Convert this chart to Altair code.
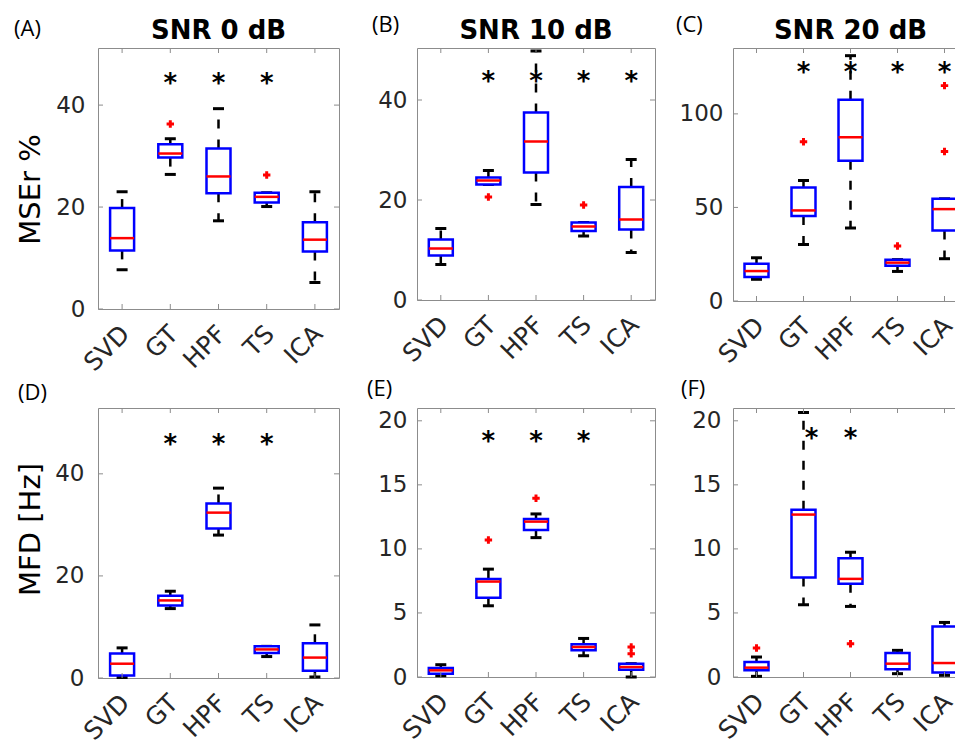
import altair as alt
import pandas as pd

methods = ["SVD", "GT", "HPF", "TS", "ICA"]

# (A) MSEr %, SNR 0 dB
A_lo = [7.7, 26.4, 17.3, 20.1, 5.2]
A_q1 = [11.5, 29.7, 22.7, 20.9, 11.3]
A_med = [13.9, 30.5, 26.0, 22.0, 13.6]
A_q3 = [19.8, 32.3, 31.5, 22.8, 17.0]
A_hi = [23.0, 33.4, 39.3, 22.8, 23.0]
A_out_m = ["GT", "TS"]
A_out_v = [36.3, 26.3]
A_star_m = ["GT", "HPF", "TS"]
A_star_v = 45.4

# (B) MSEr %, SNR 10 dB
B_lo = [7.1, 23.1, 19.1, 12.8, 9.5]
B_q1 = [8.9, 23.1, 25.5, 13.8, 14.1]
B_med = [10.3, 23.9, 31.7, 14.7, 16.1]
B_q3 = [12.1, 24.5, 37.5, 15.5, 22.6]
B_hi = [14.3, 25.9, 49.8, 15.5, 28.1]
B_out_m = ["GT", "TS"]
B_out_v = [20.6, 19.0]
B_star_m = ["GT", "HPF", "TS", "ICA"]
B_star_v = 44.8

# (C) MSEr %, SNR 20 dB
C_lo = [11.6, 30.2, 39.0, 15.8, 22.6]
C_q1 = [12.8, 45.4, 74.9, 18.9, 37.7]
C_med = [16.0, 48.4, 87.5, 20.5, 49.1]
C_q3 = [19.9, 60.7, 107.5, 22.1, 54.6]
C_hi = [23.1, 64.4, 131.1, 22.1, 54.6]
C_out_m = ["GT", "TS", "ICA", "ICA"]
C_out_v = [85.1, 29.4, 115.1, 79.9]
C_star_m = ["GT", "HPF", "TS", "ICA"]
C_star_v = 124.9

# (D) MFD [Hz], SNR 0 dB
D_lo = [0.1, 13.6, 28.0, 4.2, 0.2]
D_q1 = [0.5, 14.2, 29.3, 4.9, 1.4]
D_med = [2.8, 15.2, 32.4, 5.6, 4.0]
D_q3 = [4.8, 16.1, 34.2, 6.2, 6.8]
D_hi = [5.9, 17.0, 37.2, 6.2, 10.4]
D_out_m = []
D_out_v = []
D_star_m = ["GT", "HPF", "TS"]
D_star_v = 46.8

# (E) MFD [Hz], SNR 10 dB
E_lo = [0.1, 5.56, 10.88, 1.66, 0.0]
E_q1 = [0.26, 6.18, 11.48, 2.08, 0.57]
E_med = [0.52, 7.45, 12.13, 2.34, 0.78]
E_q3 = [0.70, 7.66, 12.34, 2.55, 1.04]
E_hi = [0.96, 8.42, 12.73, 3.01, 1.04]
E_out_m = ["GT", "HPF", "ICA", "ICA"]
E_out_v = [10.7, 13.95, 2.34, 1.82]
E_star_m = ["GT", "HPF", "TS"]
E_star_v = 18.8

# (F) MFD [Hz], SNR 20 dB
F_lo = [0.05, 5.64, 5.51, 0.26, 0.13]
F_q1 = [0.52, 7.77, 7.27, 0.60, 0.36]
F_med = [0.73, 12.68, 7.66, 1.04, 1.09]
F_q3 = [1.17, 13.06, 9.27, 1.87, 3.95]
F_hi = [1.56, 20.65, 9.74, 2.08, 4.26]
F_out_m = ["SVD", "HPF"]
F_out_v = [2.26, 2.6]
F_star_m = ["HPF"]
F_star_shift_m = ["GT"]
F_star_v = 19.04

yt_mse = [0, 20, 40]
yt_c = [0, 50, 100]
yt_e = [0, 5, 10, 15, 20]

FRAME = "#8c8c8c"
LABEL = "#262626"


def panel(lo, q1, med, q3, hi, out_m, out_v, star_m, star_v, ymax, yticks,
          w, h, letter, lx, ly, ypad, title=None, ytitle=None, ytitle_y=0,
          shift_m=None):
    df = pd.DataFrame({"method": methods, "lo": lo, "q1": q1, "med": med,
                       "q3": q3, "hi": hi})
    xsc = alt.Scale(domain=methods, paddingInner=0, paddingOuter=0)
    ysc = alt.Scale(domain=[0, ymax], nice=False, zero=False)
    xax = alt.Axis(title=None, labelAngle=315, labelAlign="right",
                   labelBaseline="top", labelPadding=12, labelOffset=-5,
                   labelFontSize=25, labelOverlap=False, labelFont="DejaVu Sans",
                   labelColor=LABEL, ticks=False, domain=False, grid=False)
    yargs = dict(values=yticks, labelPadding=ypad, labelFontSize=23,
                 labelFont="DejaVu Sans", labelColor=LABEL, ticks=False,
                 domain=False, grid=False)
    if ytitle:
        yargs.update(title=ytitle, titleX=-68, titleY=ytitle_y, titleAngle=270,
                     titleAlign="center", titleBaseline="middle",
                     titleFontSize=29, titleColor="black",
                     titleFontWeight="normal", titleFont="DejaVu Sans")
    else:
        yargs.update(title=None)
    yax = alt.Axis(**yargs)

    X = alt.X("method:N", scale=xsc, sort=methods, axis=xax)

    def Y(f):
        return alt.Y(f, scale=ysc, axis=yax)

    base = alt.Chart(df)
    wu = base.mark_rule(color="black", strokeWidth=2.5, strokeDash=[9, 11]).encode(
        x=X, y=Y("q3:Q"), y2="hi:Q")
    wd = base.mark_rule(color="black", strokeWidth=2.5, strokeDash=[9, 11]).encode(
        x=X, y=Y("q1:Q"), y2="lo:Q")
    ch = base.mark_tick(color="black", size=11, thickness=3, opacity=1).encode(
        x=X, y=Y("hi:Q"))
    cl = base.mark_tick(color="black", size=11, thickness=3, opacity=1).encode(
        x=X, y=Y("lo:Q"))
    box = base.mark_bar(size=24, color="white", stroke="#0000ff",
                        strokeWidth=2.5).encode(x=X, y=Y("q3:Q"), y2="q1:Q")
    md = base.mark_tick(color="#ff0000", size=24, thickness=2.5, opacity=1).encode(
        x=X, y=Y("med:Q"))
    layers = [wu, wd, ch, cl, box, md]

    if out_m:
        odf = pd.DataFrame({"method": out_m, "v": out_v})
        layers.append(alt.Chart(odf).mark_point(
            shape="cross", filled=True, color="#ff0000", size=55, opacity=1,
            strokeWidth=0).encode(x=X, y=Y("v:Q")))

    sdf = pd.DataFrame({"method": star_m, "v": [star_v] * len(star_m)})
    layers.append(alt.Chart(sdf).mark_text(
        text="*", font="DejaVu Sans", fontSize=26, fontWeight="bold",
        baseline="alphabetic", dy=14, color="black").encode(x=X, y=Y("v:Q")))
    if shift_m:
        sdf2 = pd.DataFrame({"method": shift_m, "v": [star_v] * len(shift_m)})
        layers.append(alt.Chart(sdf2).mark_text(
            text="*", font="DejaVu Sans", fontSize=26, fontWeight="bold",
            baseline="alphabetic", dy=14, dx=8, color="black").encode(
            x=X, y=Y("v:Q")))

    # inner tick marks (MATLAB style)
    mdf = pd.DataFrame({"method": methods})
    tdf = pd.DataFrame({"v": yticks})
    layers += [
        alt.Chart(mdf).mark_rule(color=FRAME, strokeWidth=1).encode(
            x=X, y=alt.value(0), y2=alt.value(5)),
        alt.Chart(mdf).mark_rule(color=FRAME, strokeWidth=1).encode(
            x=X, y=alt.value(h), y2=alt.value(h - 5)),
        alt.Chart(tdf).mark_rule(color=FRAME, strokeWidth=1).encode(
            y=Y("v:Q"), x=alt.value(0), x2=alt.value(5)),
        alt.Chart(tdf).mark_rule(color=FRAME, strokeWidth=1).encode(
            y=Y("v:Q"), x=alt.value(w - 5), x2=alt.value(w)),
    ]

    ldf = pd.DataFrame({"t": [letter]})
    layers.append(alt.Chart(ldf).mark_text(
        align="left", baseline="alphabetic", font="Open Sans", fontSize=22,
        color="black").encode(x=alt.value(lx), y=alt.value(ly), text="t:N"))

    if title:
        tdf2 = pd.DataFrame({"t": [title]})
        layers.append(alt.Chart(tdf2).mark_text(
            align="center", baseline="alphabetic", font="DejaVu Sans",
            fontSize=26, fontWeight="bold", color="black").encode(
            x=alt.value(w / 2), y=alt.value(-9), text="t:N"))

    return alt.layer(*layers).properties(width=w, height=h)


pA = panel(A_lo, A_q1, A_med, A_q3, A_hi, A_out_m, A_out_v, A_star_m, A_star_v,
           51.2, yt_mse, 241, 261, "(A)", -84, -12, 13, title="SNR 0 dB",
           ytitle="MSEr %", ytitle_y=141)
pB = panel(B_lo, B_q1, B_med, B_q3, B_hi, B_out_m, B_out_v, B_star_m, B_star_v,
           50.4, yt_mse, 238, 252, "(B)", -45, -16, 10, title="SNR 10 dB")
pC = panel(C_lo, C_q1, C_med, C_q3, C_hi, C_out_m, C_out_v, C_star_m, C_star_v,
           135.2, yt_c, 235, 253, "(C)", -57, -16, 10, title="SNR 20 dB")
pD = panel(D_lo, D_q1, D_med, D_q3, D_hi, D_out_m, D_out_v, D_star_m, D_star_v,
           52.9, yt_mse, 241, 270, "(D)", -80, -8, 14,
           ytitle="MFD [Hz]", ytitle_y=121)
pE = panel(E_lo, E_q1, E_med, E_q3, E_hi, E_out_m, E_out_v, E_star_m, E_star_v,
           21.0, yt_e, 238, 269, "(E)", -50, -12, 10)
pF = panel(F_lo, F_q1, F_med, F_q3, F_hi, F_out_m, F_out_v, F_star_m, F_star_v,
           21.0, yt_e, 235, 269, "(F)", -52, -12, 12, shift_m=F_star_shift_m)

chart = alt.concat(
    pA, pB, pC, pD, pE, pF, columns=3,
    spacing={"row": 99, "column": 78}, bounds="flush", align="each",
).properties(
    padding={"left": 5, "top": 5, "right": -14, "bottom": 0}
).configure_view(
    stroke=FRAME, strokeWidth=1
)

chart.save("out.html", embed_options={"renderer": "svg", "actions": False})
